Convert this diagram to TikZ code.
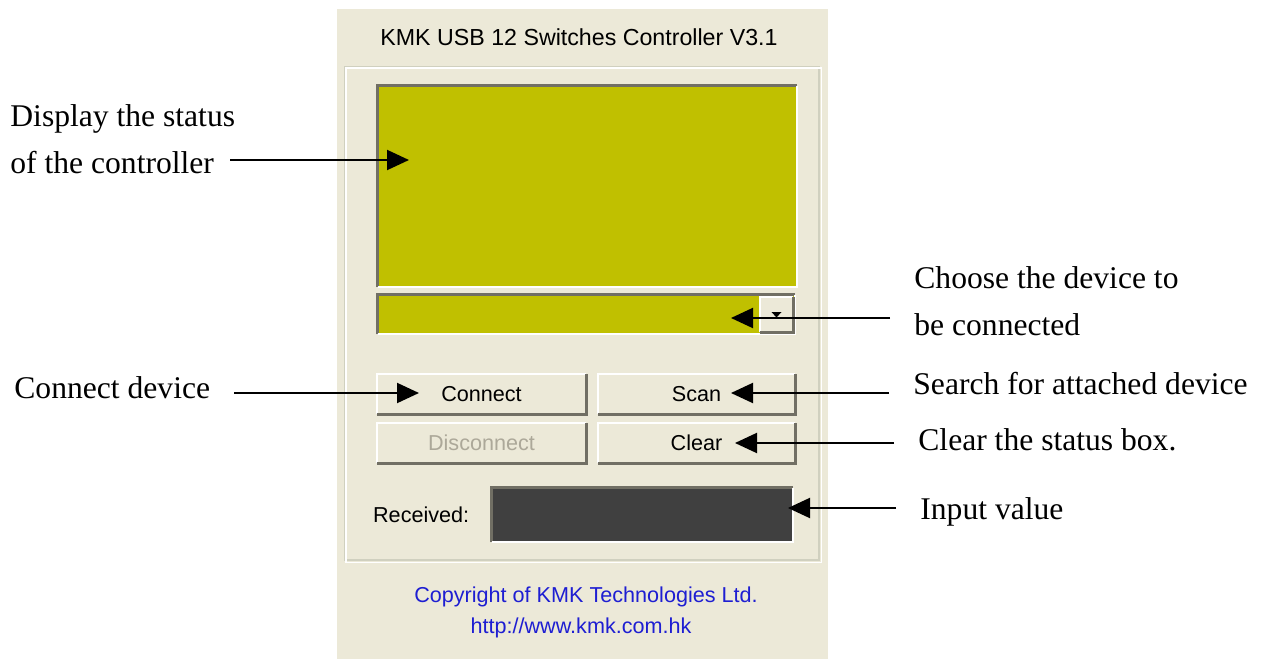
\documentclass[tikz,border=0pt]{standalone}
\usepackage{fontspec}
\setmainfont{Liberation Serif}
\newfontfamily\guifont{Liberation Sans}
\usepackage{tikz}
\usetikzlibrary{calc}
\usetikzlibrary{positioning}
\usetikzlibrary{arrows.meta}
\definecolor{winbg}{HTML}{ECE9D8}
\definecolor{lcd}{HTML}{C0C000}
\definecolor{rxbox}{HTML}{404040}
\definecolor{bevdark}{HTML}{716F64}
\definecolor{bevmid}{HTML}{ACA899}
\definecolor{etch}{HTML}{D0D0BF}
\definecolor{linkblue}{HTML}{1E1ED2}
\tikzstyle{arrow}= [line width=1pt, -{Triangle[length=11pt,width=10pt]}]

\begin{document}
\begin{tikzpicture}[
    x=0.5pt,y=-0.5pt,
    label/.style={font=\fontsize{15.8}{23.5}\selectfont, align=left, inner xsep=12pt},
    gui/.style={font=\guifont\fontsize{10.8}{13}\selectfont, inner sep=0pt},
    panel/.style={inner sep=0pt, fill=#1},
    button/.style={gui, panel=winbg, minimum width=#1, minimum height=20pt}
  ]

  \path[use as bounding box, fill=white] (0,0) rectangle (1266,659);

  % window
  \node[panel=winbg, minimum width=245.5pt, minimum height=325pt] (win) at (582.5,334) {};
  \node[gui, font=\guifont\fontsize{11.6}{14}\selectfont] (title) at (579,37) {KMK USB 12 Switches Controller V3.1};
  \node[draw=etch, line width=0.6pt, minimum width=237pt, minimum height=246.5pt] (grp) at (582,313.5) {};
  \draw[white, line width=0.6pt] ([shift={(1.5,1.5)}]grp.north west) rectangle ([shift={(1.5,1.5)}]grp.south east);

  \node[panel=lcd, minimum width=209.5pt, minimum height=100.5pt] (status) at (587.5,186.5) {};
  \node[panel=lcd, minimum width=208.5pt, minimum height=19.5pt] (combo) at (586.5,314.5) {};
  \node[panel=winbg, minimum width=16.5pt, minimum height=17.5pt] (drop) at (776.5,314.5) {};
  \fill ($(drop.center)+(-5,-2.5)$) -- ++(10,0) -- ++(-5,5.5) -- cycle;

  \node[button=104.5pt] (connect) at (481.5,394) {Connect};
  \node[button=98.5pt] (scan) at (696.5,394) {Scan};
  \node[button=104.5pt, text=bevmid] (disconnect) at (481.5,443) {Disconnect};
  \node[button=98.5pt] (clear) at (696.5,443) {Clear};

  \node[panel=rxbox, minimum width=150.5pt, minimum height=27pt] (recv) at (642.5,515) {};
  \node[gui, left=11pt of recv] (recvlbl) {Received:};

  \node[gui, text=linkblue] (copy) at (586,597) {Copyright of KMK Technologies Ltd.};
  \node[gui, text=linkblue] (url) at (581,628) {http://www.kmk.com.hk};

  % bevels
  \foreach \w in {status,combo,recv} {
    \draw[bevdark, line width=1.2pt] (\w.south west) -- (\w.north west) -- (\w.north east);
    \draw[white, line width=1pt] (\w.south west) -- (\w.south east) -- (\w.north east);
  }
  \foreach \w in {connect,scan,disconnect,clear,drop} {
    \draw[white, line width=1pt] (\w.south west) -- (\w.north west) -- (\w.north east);
    \draw[bevdark, line width=1.5pt] (\w.south west) -- (\w.south east) -- (\w.north east);
  }

  % callouts
  \node[label, anchor=west] (disp) at (-14,139.5) {Display the status\\of the controller};
  \node[label, anchor=west] (connlbl) at (-10,388) {Connect device};
  \node[label, anchor=west] (choose) at (890,301.5) {Choose the device to\\be connected};
  \node[label, anchor=west] (search) at (889,384) {Search for attached device};
  \node[label, anchor=west] (clearlbl) at (894,440) {Clear the status box.};
  \node[label, anchor=west] (input) at (896,512) {Input value};

  \coordinate (statustip) at (409,160);
  \coordinate (combotip) at (731,318);
  \coordinate (connecttip) at (419,393);
  \coordinate (scantip) at (731,393);
  \coordinate (cleartip) at (735,443);
  \coordinate (inputtip) at (788,508);

  \draw[arrow, shorten <=-14.5pt] (disp.east |- statustip) -- (statustip);
  \draw[arrow] (connlbl.east |- connecttip) -- (connecttip);
  \draw[arrow] (choose.west |- combotip) -- (combotip);
  \draw[arrow] (search.west |- scantip) -- (scantip);
  \draw[arrow] (clearlbl.west |- cleartip) -- (cleartip);
  \draw[arrow] (input.west |- inputtip) -- (inputtip);

\end{tikzpicture}
\end{document}
